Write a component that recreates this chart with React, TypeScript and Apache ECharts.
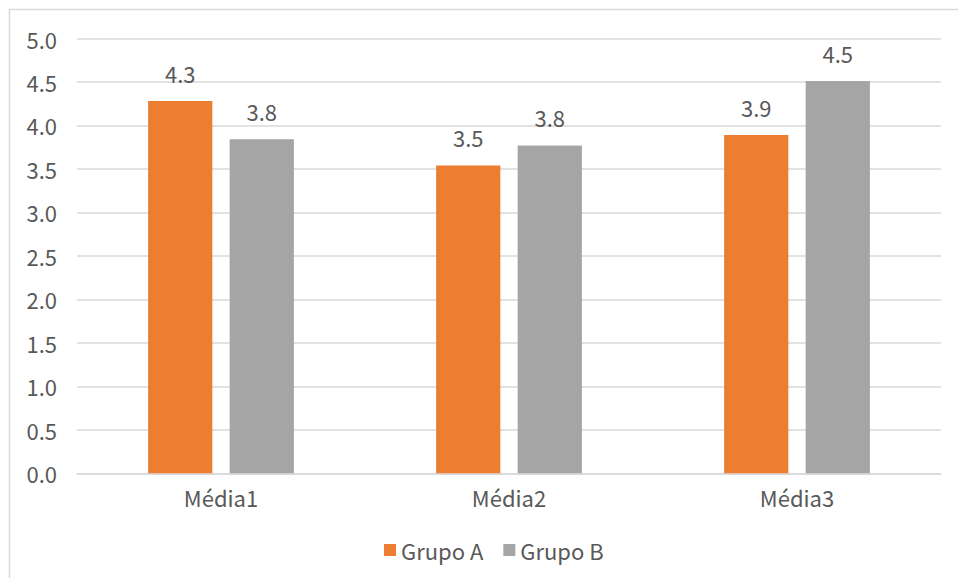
import React, { useEffect, useRef } from "react";
import * as echarts from "echarts";

const categories = ["Média1", "Média2", "Média3"];
const grupoA = [4.28, 3.54, 3.89];
const grupoB = [3.84, 3.77, 4.51];
const seriesNames = ["Grupo A", "Grupo B"];
const yTicksMin = 0;
const yTicksMax = 5;
const yTickStep = 0.5;

const FONT = "'Noto Sans CJK SC', 'Noto Sans', sans-serif";
const TEXT = "#595959";
const GRID = "#D9D9D9";
const FS = 22;

export default function App() {
  const ref = useRef<HTMLDivElement>(null);
  useEffect(() => {
    document.body.style.margin = "0";
    const chart = echarts.init(ref.current!, null, { renderer: "svg" });
    const label = {
      show: true,
      position: "top",
      distance: 17,
      color: TEXT,
      fontSize: FS,
      fontFamily: FONT,
      formatter: (p: any) => Number(p.value).toFixed(1),
    };
    chart.setOption({
      animation: false,
      backgroundColor: "#ffffff",
      textStyle: { fontFamily: FONT },
      graphic: [
        {
          type: "rect",
          shape: { x: 9.5, y: 9.5, width: 1000, height: 600 },
          style: { fill: "none", stroke: GRID, lineWidth: 1.5 },
          silent: true,
        },
      ],
      grid: { left: 77, right: 17, top: 38.5, bottom: 104.7 },
      legend: {
        data: seriesNames,
        left: 379,
        top: 534,
        itemWidth: 12,
        itemHeight: 12,
        itemGap: 20,
        icon: "rect",
        textStyle: { color: TEXT, fontSize: FS, fontFamily: FONT },
      },
      xAxis: {
        type: "category",
        data: categories,
        axisTick: { show: false },
        axisLine: { lineStyle: { color: GRID, width: 1.5 } },
        axisLabel: { color: TEXT, fontSize: FS, fontFamily: FONT, margin: 13 },
      },
      yAxis: {
        type: "value",
        min: yTicksMin,
        max: yTicksMax,
        interval: yTickStep,
        axisLine: { show: false },
        axisTick: { show: false },
        splitLine: { lineStyle: { color: GRID, width: 1.5 } },
        axisLabel: {
          color: TEXT,
          fontSize: FS,
          fontFamily: FONT,
          margin: 20,
          formatter: (v: number) => v.toFixed(1),
        },
      },
      series: [
        {
          name: seriesNames[0],
          type: "bar",
          data: grupoA,
          barWidth: "22.3%",
          barGap: "27%",
          itemStyle: { color: "#ED7D31" },
          label,
        },
        {
          name: seriesNames[1],
          type: "bar",
          data: grupoB,
          barWidth: "22.3%",
          barGap: "27%",
          itemStyle: { color: "#A5A5A5" },
          label,
        },
      ],
    });
    return () => chart.dispose();
  }, []);
  return <div ref={ref} style={{ width: 958, height: 578 }} />;
}
